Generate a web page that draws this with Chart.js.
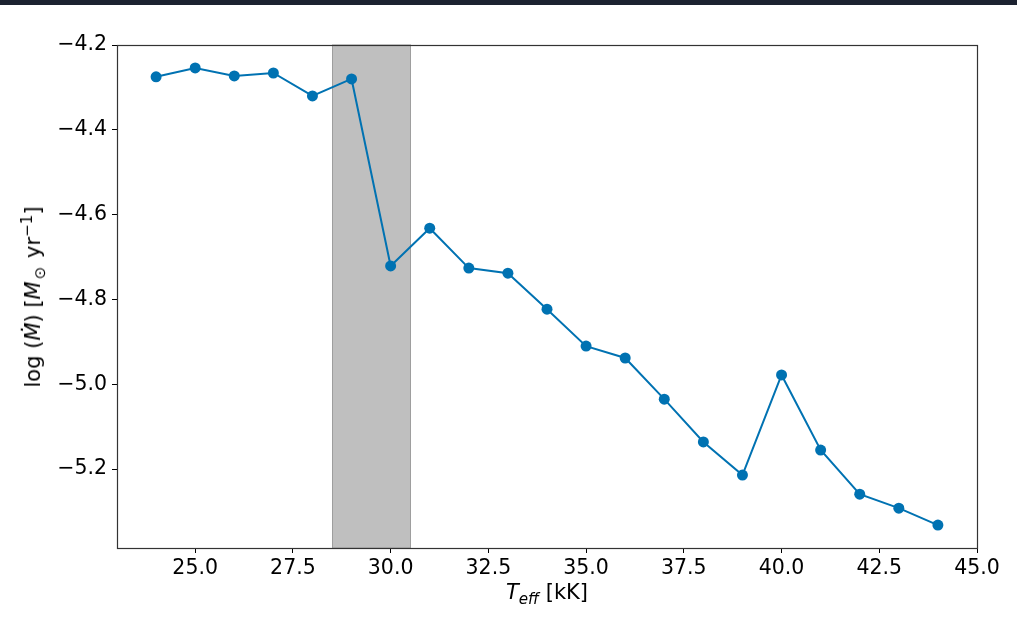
<!DOCTYPE html>
<html>
<head>
<meta charset="utf-8">
<script src="https://cdn.jsdelivr.net/npm/chart.js@4"></script>
<style>
  html, body { margin: 0; padding: 0; background: #fff; }
  #wrap { position: relative; width: 1017px; height: 621px; overflow: hidden; font-family: "DejaVu Sans", sans-serif; }
  #topbar { position: absolute; left: 0; top: 0; width: 1017px; height: 5px; background: #1c2230; }
  canvas { position: absolute; left: 0; top: 0; }
  .lab { position: absolute; color: #000; font-size: 21px; white-space: nowrap; font-family: "DejaVu Sans", sans-serif; }
  #xlab { left: 0; width: 1094px; top: 580px; text-align: center; }
  #ylab { left: 33px; top: 297px; transform: translate(-50%, -50%) rotate(-90deg); }
  sub, sup { font-size: 72%; line-height: 0; }
  .odot { margin: 0 2px 0 2px; }
</style>
</head>
<body>
<div id="wrap">
  <canvas id="c" width="1017" height="621"></canvas>
  <div id="topbar"></div>
  <div class="lab" id="xlab"><i>T</i><sub><i>eff</i></sub> [kK]</div>
  <div class="lab" id="ylab">log (<i>Ṁ</i>) [<i>M</i><sub class="odot">⊙</sub> yr<sup>−1</sup>]</div>
</div>
<script>
const temps = [24, 25, 26, 27, 28, 29, 30, 31, 32, 33, 34, 35, 36, 37, 38, 39, 40, 41, 42, 43, 44];
const logMdot = [-4.275, -4.254, -4.273, -4.266, -4.320, -4.280, -4.721, -4.632, -4.726, -4.738, -4.823, -4.910, -4.938, -5.035, -5.136, -5.214, -4.978, -5.155, -5.259, -5.292, -5.332];
const xTicks = [25.0, 27.5, 30.0, 32.5, 35.0, 37.5, 40.0, 42.5, 45.0];
const yTicks = [-5.2, -5.0, -4.8, -4.6, -4.4, -4.2];
const shadeRange = [28.5, 30.5];

const shadePlugin = {
  id: 'shade',
  beforeDatasetsDraw(chart) {
    const {ctx, chartArea, scales} = chart;
    const x0 = scales.x.getPixelForValue(shadeRange[0]);
    const x1 = scales.x.getPixelForValue(shadeRange[1]);
    ctx.save();
    ctx.fillStyle = '#bfbfbf';
    ctx.fillRect(x0, chartArea.top, x1 - x0, chartArea.bottom - chartArea.top);
    ctx.strokeStyle = '#9e9e9e';
    ctx.lineWidth = 1;
    ctx.strokeRect(Math.round(x0) + 0.5, chartArea.top, Math.round(x1 - x0), chartArea.bottom - chartArea.top);
    ctx.restore();
  },
  afterDraw(chart) {
    const {ctx, chartArea} = chart;
    ctx.save();
    ctx.strokeStyle = '#333';
    ctx.lineWidth = 1.2;
    ctx.strokeRect(Math.round(chartArea.left) + 0.5, Math.round(chartArea.top) + 0.5,
      Math.round(chartArea.right - chartArea.left), Math.round(chartArea.bottom - chartArea.top));
    ctx.restore();
  }
};

const fmt = v => (v < 0 ? '\u2212' : '') + Math.abs(v).toFixed(1);

new Chart(document.getElementById('c'), {
  type: 'line',
  data: {
    datasets: [{
      data: temps.map((t, i) => ({x: t, y: logMdot[i]})),
      borderColor: '#0072b2',
      backgroundColor: '#0072b2',
      pointBackgroundColor: '#0072b2',
      pointBorderWidth: 0,
      pointRadius: 5.5,
      borderWidth: 2,
      tension: 0,
      fill: false,
      clip: false
    }]
  },
  options: {
    responsive: false,
    animation: false,
    devicePixelRatio: 1,
    layout: { padding: { left: 0, right: 40, top: 45, bottom: 0 } },
    plugins: { legend: { display: false }, tooltip: { enabled: false }, title: { display: false } },
    scales: {
      x: {
        type: 'linear',
        min: 23, max: 45,
        afterBuildTicks: s => { s.ticks = xTicks.map(v => ({value: v})); },
        afterFit: s => { s.height = 73; },
        grid: { drawOnChartArea: false, drawTicks: true, tickLength: 5, color: '#000', lineWidth: 1 },
        border: { display: true, color: '#333', width: 1 },
        ticks: { color: '#000', padding: 3, maxRotation: 0, autoSkip: false, font: { family: 'DejaVu Sans', size: 20.5 }, callback: v => Number(v).toFixed(1) }
      },
      y: {
        type: 'linear',
        min: -5.386, max: -4.2,
        afterBuildTicks: s => { s.ticks = yTicks.map(v => ({value: v})); },
        afterFit: s => { s.width = 117; },
        grid: { drawOnChartArea: false, drawTicks: true, tickLength: 5, color: '#000', lineWidth: 1 },
        border: { display: true, color: '#333', width: 1 },
        ticks: { color: '#000', padding: 5, autoSkip: false, font: { family: 'DejaVu Sans', size: 20.5 }, callback: v => fmt(v) }
      }
    }
  },
  plugins: [shadePlugin]
});
</script>
</body>
</html>
